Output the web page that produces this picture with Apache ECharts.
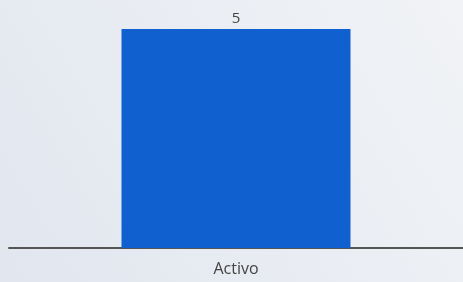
<!DOCTYPE html>
<html>
<head>
<meta charset="utf-8">
<script src="https://cdn.jsdelivr.net/npm/echarts@6/dist/echarts.min.js"></script>
<style>
	html, body { margin: 0; padding: 0; }
	#chart { width: 463px; height: 282px; }
</style>
</head>
<body>
<div id="chart"></div>
<script>
var categories = ['Activo'];
var values = [5];

var myChart = echarts.init(document.getElementById('chart'));
var option = {
	backgroundColor: new echarts.graphic.LinearGradient(0, 1, 1, 0, [
		{ offset: 0, color: '#e1e6ef' },
		{ offset: 1, color: '#f1f3f6' }
	]),
	animation: false,
	grid: { left: 9, right: 0, top: 29, bottom: 34 },
	xAxis: {
		type: 'category',
		data: categories,
		axisLine: { show: true, lineStyle: { color: '#555', width: 2 } },
		axisTick: { show: false },
		axisLabel: {
			color: '#444',
			fontSize: 16,
			fontFamily: 'Open Sans',
			margin: 13
		}
	},
	yAxis: {
		type: 'value',
		min: 0,
		max: 5,
		show: false
	},
	series: [{
		type: 'bar',
		data: values,
		barWidth: 229,
		itemStyle: { color: '#1160d0' },
		label: {
			show: true,
			position: 'top',
			distance: 3,
			color: '#444',
			fontSize: 15,
			fontFamily: 'Open Sans'
		}
	}]
};
myChart.setOption(option);
</script>
</body>
</html>
